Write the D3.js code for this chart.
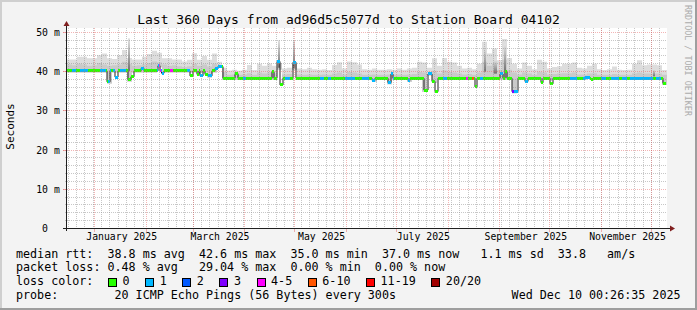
<!DOCTYPE html>
<html>
<head>
<meta charset="utf-8">
<script src="https://cdn.jsdelivr.net/npm/d3@7"></script>
<style>
  html, body { margin: 0; padding: 0; background: #f3f3f3; }
  svg { display: block; }
  text { font-family: "DejaVu Sans Mono", monospace; white-space: pre; }
</style>
</head>
<body>
<svg id="chart" width="697" height="310"></svg>
<script>
// time window of the graph
const startTime = new Date(2024, 11, 15, 0, 26, 35);
const endTime = new Date(2025, 11, 10, 0, 26, 35);

const titleText = 'Last 360 Days from ad96d5c5077d to Station Board 04102';
const yTicks = [0, 10, 20, 30, 40, 50];
const labelMonths = ['2025-01', '2025-03', '2025-05', '2025-07', '2025-09', '2025-11'];

// median rtt in ms: [day since start, value], value holds until the next entry
const medianSteps = [
  [0, 40.2],
  [24.0, 37.4], [25.8, 40.2],
  [28.8, 38.6], [30.6, 40.2],
  [36.6, 37.9], [38.4, 38.7], [40.2, 40.2],
  [44.4, 40.8], [46.2, 40.2],
  [54.6, 41.5], [55.8, 40.2], [56.7, 39.6], [58.2, 40.2],
  [73.8, 38.9], [75.6, 40.2],
  [78.0, 39.3], [79.2, 40.2],
  [79.8, 38.9], [81.6, 40.2],
  [82.8, 39.3], [84.6, 38.9], [87.0, 40.2],
  [88.8, 40.8], [90.6, 41.3], [93.6, 38.3],
  [100.8, 39.5], [102.6, 38.3],
  [123.0, 40.0], [124.2, 38.3],
  [126.0, 42.6], [127.8, 36.6], [129.6, 38.3],
  [135.6, 42.4], [137.4, 38.3],
  [183.0, 37.8], [184.8, 38.3],
  [192.6, 37.2], [194.4, 39.4], [195.6, 38.3],
  [204.6, 37.8], [205.8, 38.3],
  [214.2, 35.3], [216.6, 39.4], [219.0, 37.5], [220.8, 34.9], [222.6, 38.3],
  [244.8, 36.1], [246.0, 38.3],
  [259.8, 39.4], [261.6, 38.3], [262.8, 40.0], [264.0, 38.3],
  [267.0, 34.9], [270.6, 38.3],
  [274.8, 37.5], [276.6, 38.3],
  [284.4, 37.2], [285.6, 38.3],
  [289.8, 36.9], [291.6, 38.3],
  [310.8, 38.6], [313.8, 38.3],
  [314.4, 37.9], [315.6, 38.3],
  [357.6, 37.0]
];
const dataEnd = 359.4;

// lost pings (of 20): [start day, end day, count]
const lossSegs = [
  [3.0, 5.4, 1], [7.8, 12.6, 1], [19.8, 23.4, 1], [24.6, 26.4, 1],
  [27.6, 30.6, 1], [31.8, 35.4, 1], [44.4, 46.2, 1], [54.0, 55.2, 1],
  [55.2, 56.4, 5], [56.4, 58.2, 1], [61.8, 63.6, 4], [72.0, 73.8, 1],
  [79.8, 81.6, 1], [84.6, 87.0, 1], [88.8, 93.0, 1], [105.6, 107.4, 1],
  [126.0, 127.8, 1], [130.8, 133.8, 1], [135.6, 137.4, 1], [151.8, 154.2, 1],
  [156.6, 158.4, 1], [166.8, 172.8, 1], [177.0, 181.2, 1], [183.0, 184.8, 1],
  [192.6, 196.2, 1], [204.6, 205.8, 1], [216.6, 219.0, 1], [225.6, 228.0, 1],
  [239.4, 240.6, 4], [243.0, 244.2, 7], [247.8, 249.6, 1], [259.8, 261.6, 1],
  [267.0, 268.2, 3], [268.2, 270.6, 1], [274.8, 276.6, 1], [301.8, 306.0, 1],
  [309.6, 313.8, 1], [320.4, 323.4, 1], [326.4, 331.2, 1], [333.0, 336.0, 1],
  [337.8, 351.6, 1], [353.4, 356.4, 1]
];

const lossColors = ['#26ff00', '#00b8ff', '#0059ff', '#7e00ff', '#ff00ff', '#ff5500', '#ff0000', '#a10000'];
const lossLabels = ['0', '1', '2', '3', '4-5', '6-10', '11-19', '20/20'];

// smoke, one value per 3-day bin: top of the outer (light) band and of the inner band
const smokeTop = [
  43.1, 43.1, 43.8, 43.8, 43.4, 43.4, 44.2, 44.6, 43.4, 43.2,
  44.2, 45.5, 43.5, 43.1, 43.1, 43.8, 44.5, 45.3, 44.8, 43.4,
  43.4, 43.1, 43.1, 42.6, 43.0, 44.7, 43.0, 44.0, 43.0, 44.6,
  42.5, 41.0, 40.3, 40.5, 40.2, 40.5, 41.7, 40.4, 42.0, 41.5,
  42.1, 41.5, 42.0, 40.8, 41.0, 41.5, 40.8, 40.6, 41.0, 40.6,
  40.5, 40.6, 40.4, 41.7, 42.4, 40.8, 42.6, 42.4, 41.8, 40.6,
  40.5, 40.8, 40.5, 40.5, 40.6, 40.5, 40.8, 40.5, 40.8, 41.0,
  42.5, 42.3, 41.0, 43.4, 41.5, 43.5, 42.5, 42.3, 41.5, 40.8,
  41.0, 40.6, 42.0, 47.6, 44.6, 45.9, 42.9, 48.3, 43.5, 42.0,
  40.8, 42.3, 41.5, 40.6, 43.0, 42.5, 40.8, 41.2, 41.4, 42.0,
  42.0, 42.3, 41.0, 40.8, 41.5, 42.0, 40.6, 40.4, 40.6, 41.3,
  40.5, 40.4, 40.5, 42.0, 42.9, 41.6, 41.8, 41.8, 41.6, 40.4
];
const smokeMid = [
  41.8, 41.6, 42.0, 41.8, 41.5, 41.6, 42.2, 41.8, 41.5, 41.6,
  41.8, 42.5, 42.0, 41.5, 41.6, 41.8, 42.2, 42.6, 42.4, 41.8,
  41.5, 41.6, 41.4, 41.2, 41.4, 42.0, 41.5, 41.8, 41.3, 42.0,
  41.5, 40.0, 39.2, 39.3, 39.2, 39.3, 39.6, 39.2, 39.8, 39.5,
  39.8, 39.5, 40.5, 39.3, 39.4, 40.5, 39.3, 39.2, 39.3, 39.2,
  39.2, 39.3, 39.2, 39.5, 39.8, 39.3, 39.9, 39.8, 39.5, 39.2,
  39.2, 39.3, 39.2, 39.2, 39.3, 39.2, 39.3, 39.2, 39.3, 39.4,
  39.9, 39.8, 39.4, 40.2, 39.5, 40.3, 39.9, 39.8, 39.5, 39.3,
  39.4, 39.2, 39.8, 42.5, 41.5, 42.0, 40.5, 43.0, 40.5, 39.8,
  39.3, 39.8, 39.5, 39.2, 40.0, 39.8, 39.3, 39.4, 39.5, 39.6,
  39.6, 39.8, 39.3, 39.3, 39.5, 39.6, 39.2, 39.2, 39.2, 39.4,
  39.2, 39.2, 39.2, 39.6, 39.8, 39.5, 39.5, 39.5, 39.5, 39.2
];
// dense smoke streaks: [start day, end day, low, high]
const smokeDark = [
  [36.6, 37.8, 40.2, 48.5],
  [126.6, 127.8, 41.0, 48.0],
  [135.6, 136.8, 41.0, 48.0],
  [250.2, 251.4, 40.0, 46.0],
  [256.0, 258.0, 39.5, 43.0],
  [262.2, 263.4, 40.0, 47.0],
  [351.6, 352.8, 38.8, 40.6]
];

// legend numbers
const rttStats = [38.8, 42.6, 35.0, 37.0];
const rttSd = 1.1;
const rttAmps = 33.8;
const lossStats = [0.48, 29.04, 0.00, 0.00];
const probeText = 'probe:        20 ICMP Echo Pings (56 Bytes) every 300s';

const W = 697, H = 310;
const svg = d3.select('#chart');

const x = d3.scaleTime().domain([startTime, endTime]).range([67, 667]);
const y = d3.scaleLinear().domain([0, 51]).range([228.5, 28.5]);
const dt = d => new Date(startTime.getTime() + d * 864e5);
const px = v => Math.floor(y(v)) + 0.5;
const pxx = t => Math.round(x(t)) - 0.5;

function medianAt(d) {
  let v = medianSteps[0][1];
  medianSteps.forEach(s => { if (s[0] <= d) v = s[1]; });
  return v;
}
function lossAt(d) {
  const s = lossSegs.find(s => d >= s[0] && d < s[1]);
  return s ? s[2] : 0;
}
const lossClass = n => n <= 3 ? n : n <= 5 ? 4 : n <= 10 ? 5 : n < 20 ? 6 : 7;

// background and 3d frame
svg.append('rect').attr('width', W).attr('height', H).attr('fill', '#f3f3f3');
svg.append('rect').attr('x', 0).attr('y', 0).attr('width', W).attr('height', 2).attr('fill', '#cfcfcf');
svg.append('rect').attr('x', 0).attr('y', 0).attr('width', 2).attr('height', H).attr('fill', '#cfcfcf');
svg.append('rect').attr('x', 0).attr('y', H - 2).attr('width', W).attr('height', 2).attr('fill', '#9e9e9e');
svg.append('rect').attr('x', W - 2).attr('y', 0).attr('width', 2).attr('height', H).attr('fill', '#9e9e9e');

// canvas
svg.append('rect').attr('x', 67).attr('y', 28).attr('width', 600).attr('height', 200).attr('fill', '#fff');

// smoke
const bins = smokeTop.map((t, i) => ({ d0: i * 3, top: t, mid: smokeMid[i] }));
bins.push(Object.assign({}, bins[bins.length - 1], { d0: 360 }));
const base = b => medianAt(Math.min(b.d0, 358.5) + 1.5) - 0.4;
const smokeArea = key => d3.area()
  .curve(d3.curveStepAfter)
  .x(b => x(dt(b.d0)))
  .y0(b => y(base(b)))
  .y1(b => y(b[key]));

svg.append('path').datum(bins).attr('fill', '#dddddd').attr('d', smokeArea('top'));
svg.append('path').datum(bins).attr('fill', '#cacaca').attr('d', smokeArea('mid'));

const defs = svg.append('defs');
const grad = defs.append('linearGradient').attr('id', 'dense').attr('x1', 0).attr('y1', 0).attr('x2', 0).attr('y2', 1);
grad.append('stop').attr('offset', '0%').attr('stop-color', '#e2e2e2');
grad.append('stop').attr('offset', '100%').attr('stop-color', '#707070');

svg.append('g').selectAll('rect')
  .data(smokeDark)
  .enter()
  .append('rect')
    .attr('x', d => x(dt(d[0])))
    .attr('width', d => x(dt(d[1])) - x(dt(d[0])))
    .attr('y', d => y(d[3]))
    .attr('height', d => y(d[2]) - y(d[3]))
    .attr('fill', 'url(#dense)');

// median line (drawn under the loss colour band, so only the jumps show)
const medPts = medianSteps.concat([[dataEnd, medianSteps[medianSteps.length - 1][1]]]);
svg.append('path')
  .datum(medPts)
  .attr('fill', 'none')
  .attr('stroke', '#202020')
  .attr('stroke-width', 1)
  .attr('d', d3.line().curve(d3.curveStepAfter).x(p => x(dt(p[0]))).y(p => y(p[1])));

// loss coloured band round the median
const cuts = Array.from(new Set([0, dataEnd]
  .concat(medianSteps.map(s => s[0]))
  .concat(lossSegs.flatMap(s => [s[0], s[1]]))))
  .filter(d => d <= dataEnd)
  .sort((a, b) => a - b);
const pieces = d3.pairs(cuts).map(([a, b]) => {
  const m = (a + b) / 2;
  return { a, b, v: medianAt(m), loss: lossAt(m) };
});
svg.append('g').selectAll('rect')
  .data(pieces)
  .enter()
  .append('rect')
    .attr('x', d => x(dt(d.a)))
    .attr('width', d => x(dt(d.b)) - x(dt(d.a)))
    .attr('y', d => y(d.v) - 1.5)
    .attr('height', 3)
    .attr('fill', d => lossColors[lossClass(d.loss)])
    .attr('shape-rendering', 'crispEdges');

// grid
const gridColor = 'rgba(143,143,143,0.5)';
const mgridColor = 'rgba(228,90,90,0.45)';
const grid = svg.append('g').attr('shape-rendering', 'crispEdges');

const minorY = d3.range(2, 51, 2).filter(v => v % 10 !== 0);
grid.selectAll('.hmin').data(minorY).enter().append('line')
  .attr('x1', 65).attr('x2', 667).attr('y1', px).attr('y2', px)
  .attr('stroke', gridColor).attr('stroke-dasharray', '1,1');

const minorX = d3.timeDay.range(new Date(2024, 11, 16), endTime, 5);
grid.selectAll('.vmin').data(minorX).enter().append('line')
  .attr('x1', pxx).attr('x2', pxx).attr('y1', 28).attr('y2', 230)
  .attr('stroke', gridColor).attr('stroke-dasharray', '1,1');

const majorY = yTicks.filter(v => v > 0);
grid.selectAll('.hmaj').data(majorY).enter().append('line')
  .attr('x1', 63).attr('x2', 667).attr('y1', px).attr('y2', px)
  .attr('stroke', mgridColor).attr('stroke-dasharray', '1,1');
grid.selectAll('.hmajt').data(majorY).enter().append('line')
  .attr('x1', 63).attr('x2', 66).attr('y1', px).attr('y2', px)
  .attr('stroke', mgridColor);

const majorX = d3.timeMonth.range(startTime, endTime);
grid.selectAll('.vmaj').data(majorX).enter().append('line')
  .attr('x1', pxx).attr('x2', pxx).attr('y1', 28).attr('y2', 228)
  .attr('stroke', mgridColor).attr('stroke-dasharray', '1,1');
grid.selectAll('.vmajt').data(majorX).enter().append('line')
  .attr('x1', pxx).attr('x2', pxx).attr('y1', 229).attr('y2', 232)
  .attr('stroke', mgridColor);

// axes with arrows
svg.append('line').attr('x1', 63).attr('x2', 671).attr('y1', 228.5).attr('y2', 228.5)
  .attr('stroke', '#1f1f1f').attr('shape-rendering', 'crispEdges');
svg.append('line').attr('x1', 66.5).attr('x2', 66.5).attr('y1', 231).attr('y2', 25)
  .attr('stroke', '#1f1f1f').attr('shape-rendering', 'crispEdges');
svg.append('path').attr('d', 'M670,225.5L675,228.5L670,231.5Z').attr('fill', '#801f1f');
svg.append('path').attr('d', 'M63.5,26L66.5,21L69.5,26Z').attr('fill', '#801f1f');

// y labels
const yAxis = svg.append('g')
  .attr('transform', 'translate(59.8,0)')
  .call(d3.axisLeft(y)
    .tickValues(yTicks)
    .tickSize(0)
    .tickPadding(0)
    .tickFormat(v => `${String(v).padStart(2, ' ')} ${v ? 'm' : ' '}`));
yAxis.attr('font-size', 9.8);
yAxis.select('.domain').remove();
yAxis.selectAll('text').attr('xml:space', 'preserve').attr('fill', '#000');

// x labels, centred in their month
const parseMonth = d3.timeParse('%Y-%m');
const labelTimes = labelMonths.map(s => {
  const m = parseMonth(s);
  return new Date((m.getTime() + d3.timeMonth.offset(m, 1).getTime()) / 2);
});
const xAxis = svg.append('g')
  .attr('transform', 'translate(0,228.5)')
  .call(d3.axisBottom(x)
    .tickValues(labelTimes)
    .tickSize(0)
    .tickPadding(5)
    .tickFormat(d3.timeFormat('%B %Y')));
xAxis.attr('font-size', 9.8);
xAxis.select('.domain').remove();
xAxis.selectAll('text').attr('fill', '#000');

// title, unit, watermark
svg.append('text')
  .attr('x', 348.5).attr('y', 24)
  .attr('text-anchor', 'middle')
  .attr('font-size', 13)
  .text(titleText);

svg.append('text')
  .attr('transform', 'translate(14,126.5) rotate(-90)')
  .attr('text-anchor', 'middle')
  .attr('font-size', 11)
  .text('Seconds');

svg.append('text')
  .attr('transform', 'translate(684.5,5) rotate(90)')
  .attr('font-size', 8.4)
  .attr('fill', '#ababab')
  .text('RRDTOOL / TOBI OETIKER');

// legend
const legend = svg.append('g').attr('font-size', 11.7);
const rowY = i => 257.6 + i * 13.8;
const put = (txt, xx, row, anchor) => legend.append('text')
  .attr('x', xx).attr('y', rowY(row))
  .attr('xml:space', 'preserve')
  .attr('text-anchor', anchor || 'start')
  .text(txt);

const rttNames = ['avg', 'max', 'min', 'now'];
put('median rtt:  ' + rttStats.map((v, i) => `${v.toFixed(1)} ms ${rttNames[i]}`).join('  ')
  + `   ${rttSd.toFixed(1)} ms sd  ${rttAmps.toFixed(1)}   am/s`, 16, 0);
put('packet loss: ' + `${lossStats[0].toFixed(2)} % avg   ${lossStats[1].toFixed(2)} % max  `
  + `${lossStats[2].toFixed(2)} % min  ${lossStats[3].toFixed(2)} % now`, 16, 1);
put('loss color:', 16, 2);

let lx = 108;
lossLabels.forEach((lab, i) => {
  legend.append('rect')
    .attr('x', lx + 0.5).attr('y', 278.5)
    .attr('width', 8).attr('height', 8)
    .attr('fill', lossColors[i])
    .attr('stroke', '#000')
    .attr('shape-rendering', 'crispEdges');
  const t = put(lab, lx + 14.5, 2);
  lx = lx + 14.5 + t.node().getComputedTextLength() + 15.6;
});

put(probeText, 16, 3);
put(d3.timeFormat('%a %b %d %H:%M:%S %Y')(endTime), 680.5, 3, 'end');
</script>
</body>
</html>
